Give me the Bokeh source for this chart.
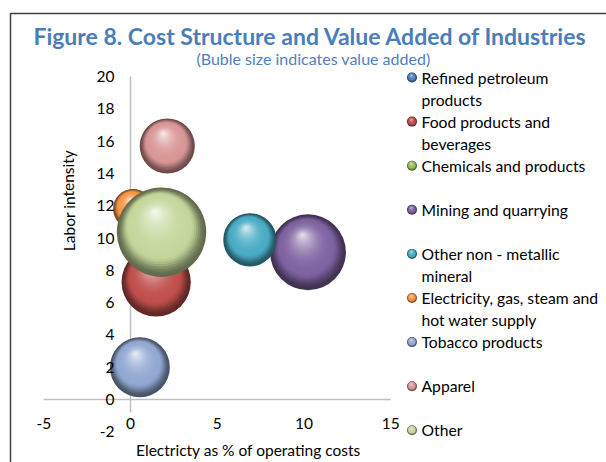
from bokeh.plotting import figure
from bokeh.models import Range1d
from bokeh.core.properties import value
from bokeh.embed import file_html
from bokeh.resources import INLINE

# ---------------- data ----------------
industries = ["Refined petroleum products", "Food products and beverages",
              "Chemicals and products", "Mining and quarrying",
              "Other non - metallic mineral",
              "Electricity, gas, steam and hot water supply",
              "Tobacco products", "Apparel", "Other"]
legend_lines = [["Refined petroleum", "products"], ["Food products and", "beverages"],
                ["Chemicals and products"], ["Mining and quarrying"],
                ["Other non - metallic", "mineral"],
                ["Electricity, gas, steam and", "hot water supply"],
                ["Tobacco products"], ["Apparel"], ["Other"]]
electricity_pct = [1.8, 1.48, 2.0, 10.23, 6.88, 0.15, 0.54, 2.12, 1.79]
labor_intensity = [10.0, 7.28, 11.0, 9.12, 9.89, 11.8, 2.0, 15.7, 10.36]
value_added = [3.0, 12.0, 5.0, 14.4, 7.1, 4.0, 9.0, 7.6, 20.0]
colors = ["#4F81BD", "#C0504D", "#9BBB59", "#8064A2", "#4BACC6",
          "#F79646", "#92A9D1", "#D99795", "#C4D79B"]
x_ticks = [-5, 0, 5, 10, 15]
y_ticks = [-2, 0, 2, 4, 6, 8, 10, 12, 14, 16, 18, 20]

# ---------------- geometry ----------------
W, H = 606, 462
SX = 17.35   # px per x unit
SY = 16.15   # px per y unit
X0 = -130 / SX
X1 = X0 + W / SX
Y1 = 399 / SY
Y0 = Y1 - H / SY


def px2x(X):
    return X0 + X / SX


def py2y(Y):
    return Y1 - Y / SY


p = figure(width=W, height=H, output_backend="svg", toolbar_location=None,
           x_range=Range1d(X0, X1), y_range=Range1d(Y0, Y1), min_border=0)
p.axis.visible = False
p.grid.visible = False
p.outline_line_color = None
p.background_fill_color = "white"

FONT = value("Lato")


def hex2rgb(h):
    h = h.lstrip("#")
    return [int(h[i:i + 2], 16) for i in (0, 2, 4)]


def mix(c1, c2, t):
    t = max(0.0, min(1.0, t))
    return "#%02x%02x%02x" % tuple(int(round(a + (b - a) * t)) for a, b in zip(c1, c2))


def smooth(t):
    return t * t * (3 - 2 * t)


def sphere(xc, yc, r, col, K=26):
    base = hex2rgb(col)
    dark = [int(c * 0.5) for c in base]
    light = [int(c + (255 - c) * 0.75) for c in base]
    xs, ys, sizes, cols = [], [], [], []
    for k in range(K):
        f = k / (K - 1)
        rk = r * (1 - 0.95 * f)
        off = (r - rk) * 0.5
        xs.append(xc - off * 0.3 / SX)
        ys.append(yc + off * 0.95 / SY)
        sizes.append(2 * rk)
        if f < 0.3:
            cols.append(mix(dark, base, smooth(f / 0.3)))
        else:
            cols.append(mix(base, light, ((f - 0.3) / 0.7) ** 2.0))
    p.scatter(xs, ys, size=sizes, fill_color=cols, line_color=None)


# border
p.line([px2x(10), px2x(10), px2x(640)], [py2y(500), py2y(13), py2y(13)],
       line_color="#404040", line_width=1.5)

# axes lines
p.line([x_ticks[0], x_ticks[-1]], [0, 0], line_color="#BFBFBF", line_width=1.5)
p.line([0, 0], [y_ticks[-1], py2y(412)], line_color="#BFBFBF", line_width=1.5)

# bubbles
for xi, yi, v, c in zip(electricity_pct, labor_intensity, value_added, colors):
    sphere(xi, yi, 10 * v ** 0.5, c)

# tick labels
p.text(x=[px2x(114)] * len(y_ticks), y=y_ticks, text=[str(t) for t in y_ticks],
       text_font=FONT, text_font_size="15.5px", text_align="right",
       text_baseline="middle", text_color="#000000")
p.text(x=x_ticks, y=[py2y(423)] * len(x_ticks), text=[str(t) for t in x_ticks],
       text_font=FONT, text_font_size="15.5px", text_align="center",
       text_baseline="middle", text_color="#000000")

# axis titles
p.text(x=[px2x(248)], y=[py2y(449)], text=["Electricty as % of operating costs"],
       text_font=FONT, text_font_size="15.5px", text_align="center",
       text_baseline="middle", text_color="#000000")
p.text(x=[px2x(68)], y=[py2y(200)], text=["Labor intensity"], angle=1.5708,
       text_font=FONT, text_font_size="15.5px", text_align="center",
       text_baseline="middle", text_color="#000000")

# title
p.text(x=[px2x(310)], y=[py2y(35)], text=["Figure 8. Cost Structure and Value Added of Industries"],
       text_font=FONT, text_font_size="23px", text_font_style="bold",
       text_align="center", text_baseline="middle", text_color="#4A7EBB")
p.text(x=[px2x(313)], y=[py2y(58)], text=["(Buble size indicates value added)"],
       text_font=FONT, text_font_size="16px", text_align="center",
       text_baseline="middle", text_color="#4F81BD")

# legend
for i, (lines, c) in enumerate(zip(legend_lines, colors)):
    Yl = 77 + 44.1 * i
    sphere(px2x(411.5), py2y(Yl), 5, c, K=8)
    for j, ln in enumerate(lines):
        p.text(x=[px2x(421)], y=[py2y(Yl + 22 * j)], text=[ln],
               text_font=FONT, text_font_size="15.7px", text_align="left",
               text_baseline="middle", text_color="#000000")

open("out.html", "w").write(file_html(p, INLINE))
